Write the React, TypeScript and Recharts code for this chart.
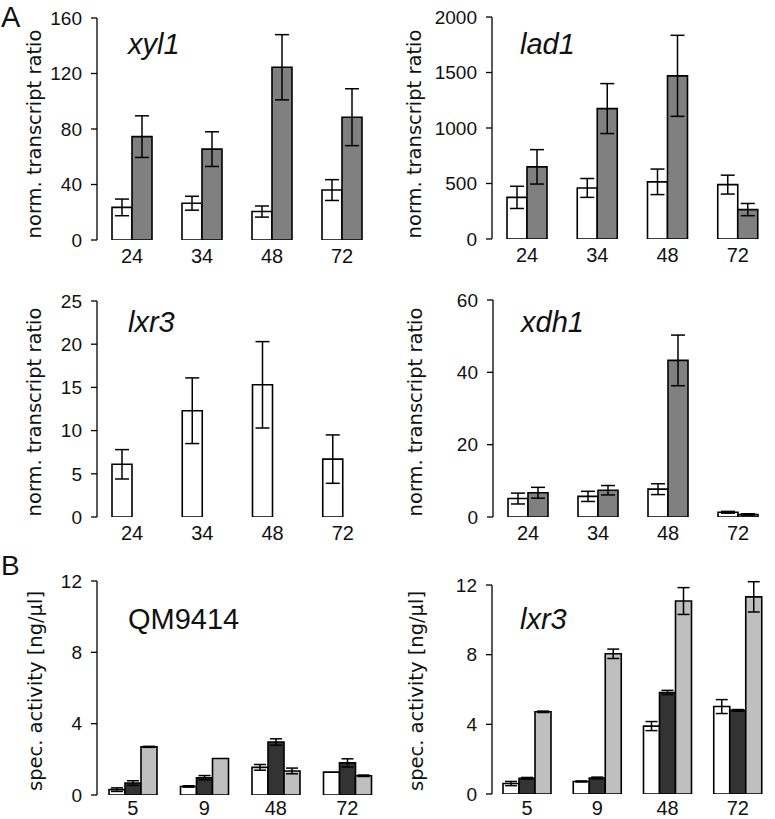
import React from 'react';
import { BarChart, Bar, XAxis, YAxis, ErrorBar } from 'recharts';

// ---------- categories ----------
const hoursA = ['24', '34', '48', '72'];
const hoursB = ['5', '9', '48', '72'];

// ---------- A: xyl1 ----------
const xyl1White = [23.5, 26.5, 20.5, 36];
const xyl1WhiteErr = [6, 5, 4, 7.5];
const xyl1Gray = [74.5, 65.5, 124.5, 88.5];
const xyl1GrayErr = [15, 12.5, 23.5, 20.5];

// ---------- A: lad1 ----------
const lad1White = [375, 460, 515, 490];
const lad1WhiteErr = [100, 85, 115, 85];
const lad1Gray = [650, 1175, 1470, 265];
const lad1GrayErr = [155, 225, 365, 55];

// ---------- A: lxr3 ----------
const lxr3White = [6.1, 12.3, 15.3, 6.7];
const lxr3WhiteErr = [1.7, 3.8, 5, 2.8];
const lxr3Gray = [null, null, null, null];
const lxr3GrayErr = [null, null, null, null];

// ---------- A: xdh1 ----------
const xdh1White = [5.1, 5.7, 7.7, 1.3];
const xdh1WhiteErr = [1.5, 1.4, 1.5, 0.25];
const xdh1Gray = [6.7, 7.4, 43.3, 0.7];
const xdh1GrayErr = [1.5, 1.3, 7, 0.2];

// ---------- B: QM9414 ----------
const qmWhite = [0.3, 0.48, 1.55, 1.28];
const qmWhiteErr = [0.1, 0.04, 0.16, 0];
const qmDark = [0.67, 0.97, 2.97, 1.8];
const qmDarkErr = [0.13, 0.12, 0.18, 0.23];
const qmLight = [2.7, 2.05, 1.35, 1.08];
const qmLightErr = [0.03, 0, 0.16, 0.04];

// ---------- B: lxr3 ----------
const lxWhite = [0.6, 0.72, 3.9, 5.02];
const lxWhiteErr = [0.12, 0.03, 0.26, 0.4];
const lxDark = [0.9, 0.92, 5.83, 4.8];
const lxDarkErr = [0.05, 0.05, 0.12, 0.05];
const lxLight = [4.72, 8.05, 11.08, 11.32];
const lxLightErr = [0.04, 0.27, 0.77, 0.87];

// ---------- axis ticks ----------
const xyl1Ticks = [0, 40, 80, 120, 160];
const lad1Ticks = [0, 500, 1000, 1500, 2000];
const lxr3Ticks = [0, 5, 10, 15, 20, 25];
const xdh1Ticks = [0, 20, 40, 60];
const activityTicks = [0, 4, 8, 12];

const WHITE = '#ffffff';
const GRAY = '#808080';
const DARK = '#333333';
const LIGHT = '#bfbfbf';

const TICK_FONT = 'Liberation Sans';

type Series = { values: (number | null)[]; errs: (number | null)[]; fill: string; showErr: boolean };

function buildRows(cats: string[], series: Series[]) {
  return cats.map((c, i) => {
    const row: any = { cat: c };
    series.forEach((s, j) => {
      row['v' + j] = s.values[i];
      row['e' + j] = s.errs[i];
    });
    return row;
  });
}

const YLabel = (props: any) => {
  const { lx, ly, txt } = props;
  return (
    <text
      x={lx}
      y={ly}
      transform={`rotate(-90 ${lx} ${ly})`}
      textAnchor="middle"
      dominantBaseline="central"
      fontFamily="DejaVu Sans"
      fontSize={19.5}
      fill="#111"
    >
      {txt}
    </text>
  );
};

const XTick = (props: any) => {
  const { x, y, payload, shift } = props;
  return (
    <text x={x} y={y} dy={14.5 + (shift || 0)} textAnchor="middle" fontFamily={TICK_FONT} fontSize={20} fill="#111">
      {payload.value}
    </text>
  );
};

const YTick = (props: any) => {
  const { x, y, payload } = props;
  return (
    <text x={x} y={y} dy={6.8} textAnchor="end" fontFamily={TICK_FONT} fontSize={19} fill="#111">
      {payload.value}
    </text>
  );
};

type PanelProps = {
  left: number;
  top: number;
  width: number;
  height: number;
  axisX: number;
  plotTop: number;
  plotBottom: number;
  plotRight: number;
  cats: string[];
  series: Series[];
  yMax: number;
  yTicks: number[];
  barSize: number;
  yLabel: string;
  labelX: number;
  labelY: number;
  capWidth: number;
  xShift?: number;
};

function Panel(p: PanelProps) {
  const data = buildRows(p.cats, p.series);
  const edgeTicks = p.cats.map((_, i) => i).concat([p.cats.length]);
  return (
    <div style={{ position: 'absolute', left: p.left, top: p.top, width: p.width, height: p.height }}>
      <BarChart
        width={p.width}
        height={p.height}
        data={data}
        margin={{ top: p.plotTop, right: p.width - p.plotRight, bottom: 0, left: 0 }}
        barGap={0}
        barSize={p.barSize}
      >
        <XAxis
          xAxisId="edge"
          type="number"
          domain={[0, p.cats.length]}
          ticks={edgeTicks}
          allowDataOverflow
          height={0}
          tick={false}
          tickSize={5}
          axisLine={{ stroke: '#000', strokeWidth: 1.3 }}
          tickLine={{ stroke: '#000', strokeWidth: 1.3 }}
        />
        <XAxis
          xAxisId="cat"
          dataKey="cat"
          height={p.height - p.plotBottom}
          axisLine={false}
          tickLine={false}
          tickSize={6}
          tickMargin={2}
          interval={0}
          tick={<XTick shift={p.xShift || 0} />}
        />
        <YAxis
          width={p.axisX}
          domain={[0, p.yMax]}
          ticks={p.yTicks}
          interval={0}
          allowDataOverflow
          tickSize={6}
          tickMargin={9}
          axisLine={{ stroke: '#000', strokeWidth: 1.3 }}
          tickLine={{ stroke: '#000', strokeWidth: 1.3 }}
          tick={<YTick />}
          label={<YLabel lx={p.labelX} ly={p.labelY} txt={p.yLabel} />}
        />
        {p.series.map((s, j) => (
          <Bar
            key={j}
            xAxisId="cat"
            dataKey={'v' + j}
            fill={s.fill}
            stroke="#000"
            strokeWidth={1.6}
            isAnimationActive={false}
          >
            {s.showErr ? (
              <ErrorBar dataKey={'e' + j} width={p.capWidth} stroke="#000" strokeWidth={1.5} />
            ) : null}
          </Bar>
        ))}
      </BarChart>
    </div>
  );
}

const TITLE_FONT = 'Liberation Sans';

export default function App() {
  return (
    <div style={{ position: 'absolute', left: 0, top: 0, width: 775, height: 819, background: '#fff' }}>
      <Panel
        left={0} top={0} width={385} height={275}
        axisX={97} plotTop={18} plotBottom={240} plotRight={377}
        cats={hoursA}
        series={[
          { values: xyl1White, errs: xyl1WhiteErr, fill: WHITE, showErr: true },
          { values: xyl1Gray, errs: xyl1GrayErr, fill: GRAY, showErr: true },
        ]}
        yMax={160} yTicks={xyl1Ticks} barSize={20}
        yLabel="norm. transcript ratio" labelX={34} labelY={134} capWidth={7}
      />
      <Panel
        left={385} top={0} width={390} height={275}
        axisX={107} plotTop={17} plotBottom={239} plotRight={388}
        cats={hoursA}
        series={[
          { values: lad1White, errs: lad1WhiteErr, fill: WHITE, showErr: true },
          { values: lad1Gray, errs: lad1GrayErr, fill: GRAY, showErr: true },
        ]}
        yMax={2000} yTicks={lad1Ticks} barSize={20}
        yLabel="norm. transcript ratio" labelX={29} labelY={134} capWidth={7}
      />
      <Panel
        left={0} top={270} width={385} height={277}
        axisX={97} plotTop={31} plotBottom={247} plotRight={378}
        cats={hoursA}
        series={[
          { values: lxr3White, errs: lxr3WhiteErr, fill: WHITE, showErr: true },
          { values: lxr3Gray, errs: lxr3GrayErr, fill: GRAY, showErr: false },
        ]}
        yMax={25} yTicks={lxr3Ticks} barSize={20}
        yLabel="norm. transcript ratio" labelX={34} labelY={142} capWidth={7}
      />
      <Panel
        left={385} top={270} width={390} height={277}
        axisX={108} plotTop={30} plotBottom={247} plotRight={388}
        cats={hoursA}
        series={[
          { values: xdh1White, errs: xdh1WhiteErr, fill: WHITE, showErr: true },
          { values: xdh1Gray, errs: xdh1GrayErr, fill: GRAY, showErr: true },
        ]}
        yMax={60} yTicks={xdh1Ticks} barSize={20}
        yLabel="norm. transcript ratio" labelX={30} labelY={142} capWidth={7}
      />
      <Panel
        left={0} top={540} width={390} height={279}
        axisX={97} plotTop={41} plotBottom={255} plotRight={383}
        cats={hoursB}
        series={[
          { values: qmWhite, errs: qmWhiteErr, fill: WHITE, showErr: true },
          { values: qmDark, errs: qmDarkErr, fill: DARK, showErr: true },
          { values: qmLight, errs: qmLightErr, fill: LIGHT, showErr: true },
        ]}
        yMax={12} yTicks={activityTicks} barSize={16}
        yLabel="spec. activity [ng/µl]" labelX={35} labelY={151} capWidth={6}
        xShift={-3}
      />
      <Panel
        left={385} top={540} width={390} height={279}
        axisX={107} plotTop={45} plotBottom={254} plotRight={388}
        cats={hoursB}
        series={[
          { values: lxWhite, errs: lxWhiteErr, fill: WHITE, showErr: true },
          { values: lxDark, errs: lxDarkErr, fill: DARK, showErr: true },
          { values: lxLight, errs: lxLightErr, fill: LIGHT, showErr: true },
        ]}
        yMax={12} yTicks={activityTicks} barSize={16}
        yLabel="spec. activity [ng/µl]" labelX={31} labelY={151} capWidth={6}
        xShift={-2}
      />
      <svg
        width={775}
        height={819}
        style={{ position: 'absolute', left: 0, top: 0, pointerEvents: 'none' }}
      >
        <g fontFamily={TITLE_FONT} fill="#111">
          <text x={1} y={27} fontSize={29}>A</text>
          <text x={1} y={575} fontSize={28}>B</text>
          <text x={128} y={54} fontSize={29} fontStyle="italic">xyl1</text>
          <text x={520} y={54} fontSize={29} fontStyle="italic">lad1</text>
          <text x={128} y={332} fontSize={29} fontStyle="italic">lxr3</text>
          <text x={521} y={332} fontSize={29} fontStyle="italic">xdh1</text>
          <text x={128} y={629} fontSize={29}>QM9414</text>
          <text x={520} y={629} fontSize={29} fontStyle="italic">lxr3</text>
        </g>
      </svg>
    </div>
  );
}
